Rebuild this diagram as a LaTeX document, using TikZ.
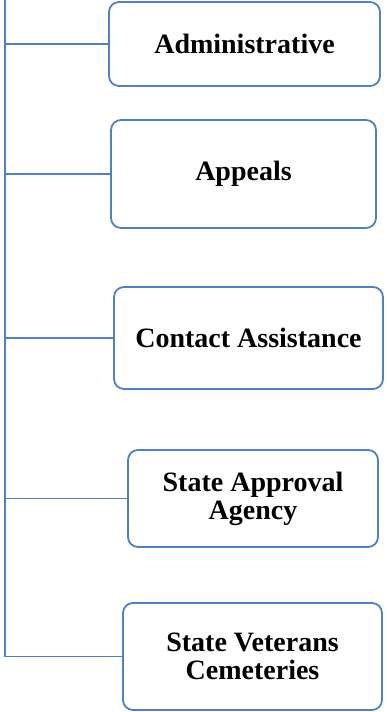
\documentclass[tikz,border=0pt]{standalone}
\usepackage{fontspec}
\setmainfont{Liberation Serif}
\usetikzlibrary{positioning}

\definecolor{linkblue}{HTML}{4F81BD}
\tikzset{
    unit/.style={draw=linkblue, line width=1.8pt, rounded corners=10pt, fill=white,
        align=center, font=\bfseries\fontsize{28}{28}\selectfont},
    link/.style={draw=linkblue, line width=1.8pt}
}

\begin{document}
\begin{tikzpicture}[x=1pt, y=1pt]
            \useasboundingbox (0,0) rectangle (386,-712);
            \coordinate (top) at (5,0);

            \node[unit, minimum width=271pt, minimum height=84pt] (admin) at (244.5,-44) {Administrative};
            \node[unit, below of=admin, node distance=130pt, xshift=-1pt, minimum width=265pt, minimum height=108pt] (appeals) {Appeals};
            \node[unit, below of=appeals, node distance=164pt, xshift=5pt, minimum width=269pt, minimum height=102pt] (contact) {Contact Assistance};
            \node[unit, below of=contact, node distance=160.5pt, xshift=4.5pt, minimum width=250pt, minimum height=97pt] (approval) {State Approval\\Agency};
            \node[unit, below of=approval, node distance=158pt, xshift=-0.5pt, minimum width=259pt, minimum height=107pt] (cemetery) {State Veterans\\Cemeteries};

            \draw[link]
            (top) |- (admin.west)
            (top) |- (appeals.west)
            (top) |- (contact.west)
            (top) |- (approval.west)
            (top) |- (cemetery.west);
        \end{tikzpicture}
\end{document}
